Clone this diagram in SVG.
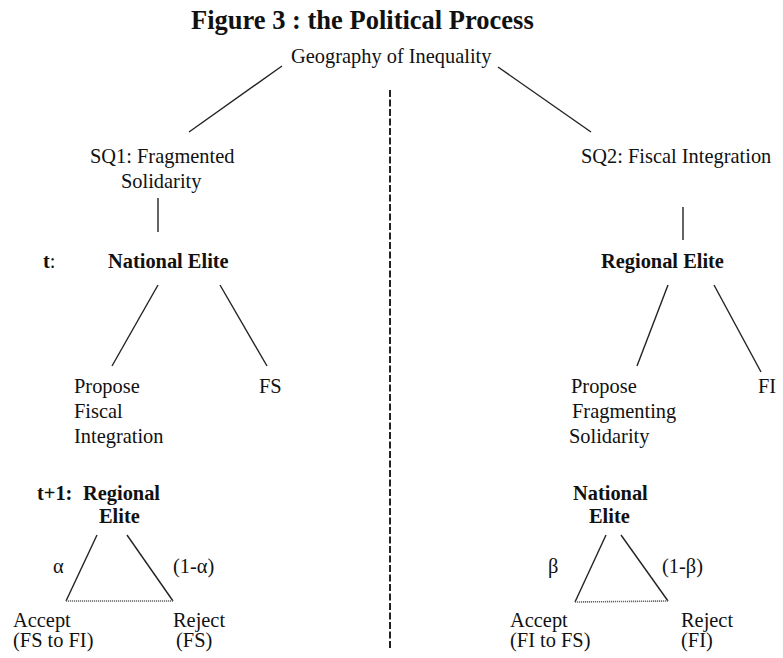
<svg xmlns="http://www.w3.org/2000/svg" width="783" height="658" viewBox="0 0 783 658">
<style>
text{font-family:"Liberation Serif","Times New Roman",serif;font-size:20.4px;fill:#111}
.b{font-weight:bold}
.title{font-weight:bold;font-size:26.5px}
.ln{stroke:#222;stroke-width:1.4;fill:none}
.dot{stroke:#666;stroke-width:1.6;stroke-dasharray:1.2 0.8;fill:none}
.dash{stroke:#222;stroke-width:2;stroke-dasharray:7 2.5;fill:none}
</style>
<rect width="783" height="658" fill="#fff"/>
<text id="title" class="title" x="191" y="29">Figure 3 : the Political Process</text>
<g id="root"><text x="291" y="63">Geography of Inequality</text></g>
<g id="sq1"><text x="90" y="163">SQ1: Fragmented</text><text x="121" y="188">Solidarity</text></g>
<g id="sq2"><text x="581" y="163">SQ2: Fiscal Integration</text></g>
<g id="t-label"><text x="43" y="268"><tspan class="b">t</tspan>:</text></g>
<g id="national-elite-t"><text class="b" x="108" y="268">National Elite</text></g>
<g id="regional-elite-t"><text class="b" x="601" y="268">Regional Elite</text></g>
<g id="propose-fi"><text x="74" y="393">Propose</text><text x="74" y="418">Fiscal</text><text x="74" y="443">Integration</text></g>
<g id="fs"><text x="259" y="393">FS</text></g>
<g id="propose-fs"><text x="571" y="393">Propose</text><text x="572" y="418">Fragmenting</text><text x="569" y="443">Solidarity</text></g>
<g id="fi"><text x="758" y="393">FI</text></g>
<g id="t1-label"><text class="b" x="37" y="500">t+1:</text></g>
<g id="regional-elite-t1"><text class="b" x="83" y="500">Regional</text><text class="b" x="99" y="523">Elite</text></g>
<g id="national-elite-t1"><text class="b" x="573" y="500">National</text><text class="b" x="589" y="523">Elite</text></g>
<g id="alpha"><text x="53" y="573">α</text></g>
<g id="one-minus-alpha"><text x="173" y="573">(1-α)</text></g>
<g id="beta"><text x="548" y="573">β</text></g>
<g id="one-minus-beta"><text x="662" y="573">(1-β)</text></g>
<g id="accept-left"><text x="13" y="627">Accept</text><text x="13" y="647">(FS to FI)</text></g>
<g id="reject-left"><text x="173" y="627">Reject</text><text x="176" y="647">(FS)</text></g>
<g id="accept-right"><text x="510" y="627">Accept</text><text x="510" y="647">(FI to FS)</text></g>
<g id="reject-right"><text x="681" y="627">Reject</text><text x="681" y="647">(FI)</text></g>
<g id="connectors">
<line class="ln" x1="282" y1="66" x2="189" y2="132"/>
<line class="ln" x1="498" y1="67" x2="591" y2="132"/>
<line class="dash" x1="390" y1="90" x2="390" y2="650"/>
<line class="ln" x1="158" y1="198" x2="158" y2="232"/>
<line class="ln" x1="683" y1="207" x2="683" y2="240"/>
<line class="ln" x1="158" y1="285" x2="112" y2="366"/>
<line class="ln" x1="220" y1="285" x2="267" y2="366"/>
<line class="ln" x1="668" y1="285" x2="637" y2="366"/>
<line class="ln" x1="714" y1="285" x2="761" y2="372"/>
<line class="ln" x1="97" y1="535" x2="66" y2="601"/>
<line class="ln" x1="127" y1="535" x2="173" y2="601"/>
<line class="dot" x1="66" y1="601" x2="173" y2="601"/>
<line class="ln" x1="606" y1="535" x2="575" y2="602"/>
<line class="ln" x1="621" y1="535" x2="668" y2="601"/>
<line class="dot" x1="575" y1="602" x2="668" y2="601"/>
</g>
</svg>
